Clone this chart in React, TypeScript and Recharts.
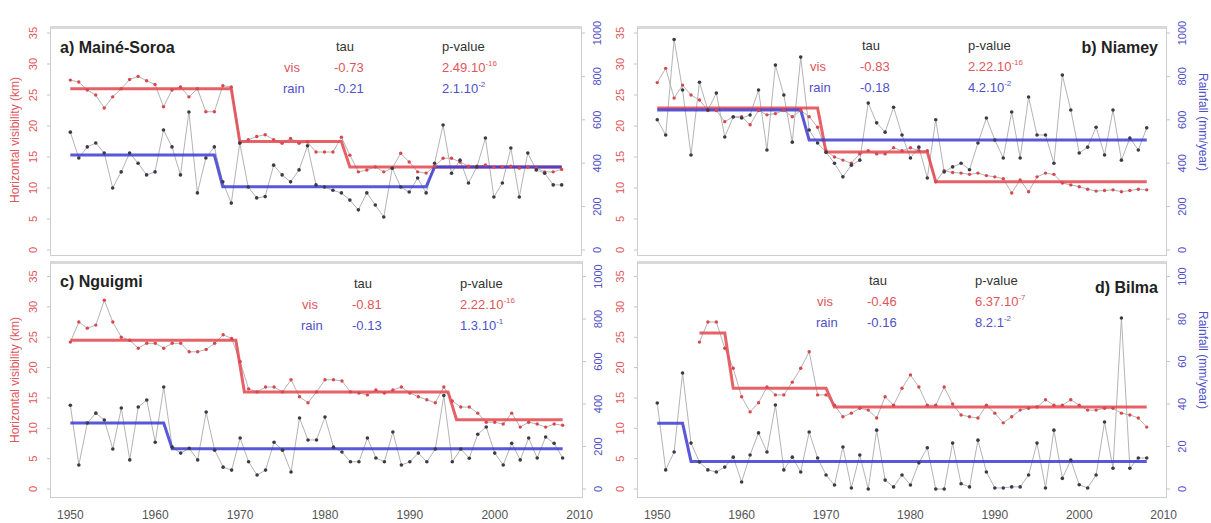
import { ComposedChart, Line, XAxis, YAxis } from 'recharts'

const FONT = '"Liberation Sans", Arial, sans-serif'

const YEARS = [
  1950, 1951, 1952, 1953, 1954, 1955, 1956, 1957, 1958, 1959,
  1960, 1961, 1962, 1963, 1964, 1965, 1966, 1967, 1968, 1969,
  1970, 1971, 1972, 1973, 1974, 1975, 1976, 1977, 1978, 1979,
  1980, 1981, 1982, 1983, 1984, 1985, 1986, 1987, 1988, 1989,
  1990, 1991, 1992, 1993, 1994, 1995, 1996, 1997, 1998, 1999,
  2000, 2001, 2002, 2003, 2004, 2005, 2006, 2007, 2008,
]
const X_TICKS = [1950, 1960, 1970, 1980, 1990, 2000, 2010]
const VIS_TICKS = [0, 5, 10, 15, 20, 25, 30, 35]
const RAIN_TICKS = [0, 200, 400, 600, 800, 1000]
const RAIN_TICKS_BILMA = [0, 20, 40, 60, 80, 100]

// a) Mainé-Soroa
const visMaine = [
  27.4, 27.1, 25.8, 25.0, 22.9, 24.7, 26.0, 27.5, 28.0, 27.3,
  26.7, 23.1, 25.8, 26.3, 24.7, 26.0, 22.3, 22.3, 26.5, 26.3,
  17.2, 17.8, 18.3, 18.6, 17.8, 17.2, 18.0, 17.2, 17.4, 15.8,
  15.8, 15.8, 18.2, 15.3, 12.6, 12.9, 13.4, 12.6, 13.2, 15.6,
  14.2, 12.6, 12.4, 13.5, 14.8, 14.8, 14.2, 13.5, 13.5, 13.7,
  13.4, 13.4, 13.5, 13.2, 13.4, 13.2, 12.6, 12.6, 13.0,
]
const rainMaine = [
  543, 424, 475, 493, 447, 286, 360, 447, 400, 346,
  360, 553, 475, 346, 636, 263, 424, 475, 314, 216,
  493, 290, 240, 246, 391, 346, 314, 369, 480, 300,
  290, 275, 263, 230, 185, 263, 207, 152, 377, 290,
  267, 332, 263, 400, 576, 354, 414, 309, 383, 516,
  244, 309, 470, 244, 447, 369, 354, 300, 300,
]
const visMeanMaine: [number, number, number][] = [[1950, 1969, 26], [1970, 1982, 17.5], [1983, 2008, 13.4]]
const rainMeanMaine: [number, number, number][] = [[1950, 1967, 438], [1968, 1992, 291], [1993, 2008, 383]]

// b) Niamey
const visNiamey = [
  27.0, 29.3, 24.5, 26.6, 25.0, 24.2, 22.5, 22.5, 20.7, 21.5,
  21.5, 20.2, 22.5, 21.8, 22.0, 22.5, 21.5, 22.5, 21.5, 19.8,
  16.0, 15.0, 14.5, 14.0, 15.5, 16.0, 15.5, 15.5, 16.5, 16.0,
  16.5, 16.0, 16.0, 11.0, 12.8, 12.5, 12.4, 12.2, 12.4, 12.0,
  11.8, 11.5, 9.2, 11.3, 9.4, 11.8, 12.4, 12.2, 10.8, 10.5,
  10.2, 9.8, 9.5, 9.6, 9.7, 9.4, 9.6, 9.8, 9.7,
]
const rainNiamey = [
  600, 530, 970, 737, 438, 773, 645, 723, 521, 613,
  608, 622, 737, 461, 852, 714, 497, 889, 553, 493,
  450, 400, 337, 391, 414, 677, 586, 543, 658, 530,
  424, 474, 332, 600, 360, 383, 400, 370, 493, 608,
  507, 424, 636, 424, 705, 530, 530, 400, 806, 645,
  447, 474, 566, 438, 645, 414, 516, 461, 563,
]
const visMeanNiamey: [number, number, number][] = [[1950, 1969, 22.9], [1970, 1982, 15.8], [1983, 2008, 11.0]]
const rainMeanNiamey: [number, number, number][] = [[1950, 1967, 645], [1968, 2008, 507]]

// c) Nguigmi
const visNguigmi = [
  24.2, 27.5, 26.5, 27.0, 31.1, 27.5, 25.0, 24.5, 23.2, 24.0,
  24.0, 23.2, 24.0, 24.0, 22.6, 22.6, 23.0, 24.0, 25.4, 24.8,
  21.0, 16.5, 16.0, 16.8, 16.8, 16.0, 18.0, 15.2, 14.2, 16.0,
  18.0, 18.0, 17.8, 16.0, 15.8, 15.5, 16.3, 15.8, 16.3, 16.8,
  15.8, 15.2, 14.7, 14.2, 16.8, 14.5, 13.5, 13.5, 12.5, 11.0,
  11.0, 10.7, 12.5, 10.2, 11.0, 10.7, 10.2, 10.7, 10.5,
]
const rainNguigmi = [
  394, 113, 311, 357, 325, 188, 381, 137, 386, 419,
  220, 480, 197, 169, 192, 137, 362, 183, 103, 89,
  240, 128, 66, 89, 220, 183, 80, 334, 231, 231,
  339, 197, 174, 128, 128, 240, 146, 128, 268, 113,
  128, 169, 128, 188, 440, 128, 188, 145, 258, 292,
  169, 113, 215, 137, 240, 146, 245, 215, 146,
]
const visMeanNguigmi: [number, number, number][] = [[1950, 1969.5, 24.5], [1970.5, 1994.5, 16.0], [1995.5, 2008, 11.4]]
const rainMeanNguigmi: [number, number, number][] = [[1950, 1961, 311], [1962, 2008, 189]]

// d) Bilma
const visBilma = [
  null, null, null, null, null, 24.2, 27.5, 27.5, 23.2, 19.9,
  15.2, 12.7, 14.2, 16.8, 15.5, 15.5, 17.6, 19.9, 22.6, 15.5,
  15.5, 13.8, 11.9, 12.5, 13.3, 13.0, 11.7, 15.2, 13.8, 16.6,
  18.8, 16.8, 13.8, 13.8, 16.8, 14.0, 12.2, 11.9, 11.7, 13.8,
  12.5, 10.9, 11.9, 13.0, 13.3, 13.5, 14.7, 13.8, 13.8, 14.7,
  13.8, 13.0, 13.0, 13.3, 13.3, 12.5, 12.2, 11.7, 10.2,
]
const rainBilma = [
  40.5, 9, 17.4, 54.6, 21.6, 12.7, 9, 8, 10.3, 15,
  3.3, 16, 26.4, 17.4, 39.5, 9, 15, 8, 26.8, 14.6,
  6.6, 1.9, 19.8, 0.5, 16, 0, 27.7, 4.2, 1, 6.6,
  1.9, 12.3, 19.4, 0, 0, 21.6, 2.5, 1, 23, 8,
  0.5, 0.5, 1, 1, 6.6, 21.6, 0.5, 27.7, 5, 13.6,
  2, 0.5, 6.6, 31.5, 9.8, 80.5, 9.8, 14.6, 14.6,
]
const visMeanBilma: [number, number, number][] = [[1955, 1958, 25.7], [1959, 1970, 16.6], [1971, 2008, 13.5]]
const rainMeanBilma: [number, number, number][] = [[1950, 1953, 31], [1954, 2008, 13]]

const RED = '#e2474d'
const BLUE = '#3b3bd2'
const RED_TXT = '#e0555a'
const BLUE_TXT = '#5050c8'
const GREY_LINE = '#b4b4b4'
const AXW = 40
const PAD = 14
const X_DOMAIN = [1947.6, 2010.4]

function stepPoints(segs: [number, number, number][]) {
  return segs.flatMap(([s, e, v]) => [{ year: s, v }, { year: e, v }])
}

function yTick(x: number, color: string) {
  return (props: any) => {
    const { y, payload } = props
    return (
      <text
        x={x}
        y={y}
        transform={`rotate(-90 ${x} ${y})`}
        textAnchor="middle"
        fill={color}
        fontSize={11}
        fontFamily={FONT}
      >
        {payload.value}
      </text>
    )
  }
}

const visDot = (p: any) =>
  p.value == null || p.cy == null ? <g key={p.index} /> : <circle key={p.index} cx={p.cx} cy={p.cy} r={1.7} fill="#d9464c" />
const rainDot = (p: any) =>
  p.value == null || p.cy == null ? <g key={p.index} /> : <circle key={p.index} cx={p.cx} cy={p.cy} r={1.8} fill="#3a3a4a" />

interface PanelProps {
  left: number
  top: number
  w: number
  h: number
  vis: (number | null)[]
  rain: number[]
  visMean: [number, number, number][]
  rainMean: [number, number, number][]
  visDomain: number[]
  rainDomain: number[]
  rainTicks: number[]
  showX: boolean
}

function Panel({ left, top, w, h, vis, rain, visMean, rainMean, visDomain, rainDomain, rainTicks, showX }: PanelProps) {
  const xH = showX ? 26 : 0
  const bottomPad = showX ? 0 : PAD
  const data = YEARS.map((year, i) => ({ year, vis: vis[i], rain: rain[i] }))
  return (
    <>
      <div
        style={{
          position: 'absolute',
          left,
          top,
          width: w,
          height: h,
          boxSizing: 'border-box',
          border: '1px solid #cdcdcd',
          borderTop: '3px solid #d9d9d9',
        }}
      />
      <div style={{ position: 'absolute', left: left - AXW, top: top - PAD }}>
        <ComposedChart
          width={w + 2 * AXW}
          height={h + xH + PAD + bottomPad}
          data={data}
          margin={{ top: PAD, right: 0, bottom: bottomPad, left: 0 }}
        >
          <XAxis
            type="number"
            dataKey="year"
            domain={X_DOMAIN}
            ticks={X_TICKS}
            allowDataOverflow
            hide={!showX}
            height={xH}
            axisLine={false}
            tickLine={false}
            tickMargin={6}
            interval={0}
            tick={{ fill: '#555555', fontSize: 12, fontFamily: FONT }}
          />
          <YAxis
            yAxisId="vis"
            orientation="left"
            width={AXW}
            domain={visDomain}
            ticks={VIS_TICKS}
            interval={0}
            allowDataOverflow
            axisLine={false}
            tickLine={{ stroke: '#c4c4c4' }}
            tickSize={3}
            tick={yTick(AXW - 13, RED_TXT)}
          />
          <YAxis
            yAxisId="rain"
            orientation="right"
            width={AXW}
            domain={rainDomain}
            ticks={rainTicks}
            interval={0}
            allowDataOverflow
            axisLine={false}
            tickLine={{ stroke: '#c4c4c4' }}
            tickSize={3}
            tick={yTick(AXW + w + 19, BLUE_TXT)}
          />
          <Line yAxisId="vis" dataKey="vis" stroke={GREY_LINE} strokeWidth={1} dot={visDot} isAnimationActive={false} />
          <Line yAxisId="rain" dataKey="rain" stroke={GREY_LINE} strokeWidth={1} dot={rainDot} isAnimationActive={false} />
          <Line
            yAxisId="vis"
            data={stepPoints(visMean)}
            dataKey="v"
            stroke={RED}
            strokeOpacity={0.85}
            strokeWidth={3}
            dot={false}
            isAnimationActive={false}
          />
          <Line
            yAxisId="rain"
            data={stepPoints(rainMean)}
            dataKey="v"
            stroke={BLUE}
            strokeOpacity={0.85}
            strokeWidth={3}
            dot={false}
            isAnimationActive={false}
          />
        </ComposedChart>
      </div>
    </>
  )
}

function Txt({ x, y, children, color = '#333', size = 13, bold = false, right = false }: any) {
  return (
    <div
      style={{
        position: 'absolute',
        left: right ? undefined : x,
        right: right ? 1211 - x : undefined,
        top: y,
        transform: 'translateY(-50%)',
        color,
        fontSize: size,
        fontWeight: bold ? 700 : 400,
        fontFamily: FONT,
        lineHeight: 1,
        whiteSpace: 'nowrap',
      }}
    >
      {children}
    </div>
  )
}

function Pow({ base, exp }: { base: string; exp: string }) {
  return (
    <>
      {base}
      <span style={{ fontSize: 8, position: 'relative', top: -6 }}>{exp}</span>
    </>
  )
}

function VTitle({ x, y, text, color, deg }: { x: number; y: number; text: string; color: string; deg: number }) {
  return (
    <div
      style={{
        position: 'absolute',
        left: x,
        top: y,
        transform: `translate(-50%, -50%) rotate(${deg}deg)`,
        color,
        fontSize: 12,
        fontFamily: FONT,
        whiteSpace: 'nowrap',
        lineHeight: 1,
      }}
    >
      {text}
    </div>
  )
}

function Stats({ x0, y0, tau, pv }: { x0: number; y0: number; tau: string[]; pv: [string, string][] }) {
  return (
    <>
      <Txt x={x0 + 52} y={y0}>tau</Txt>
      <Txt x={x0 + 158} y={y0}>p-value</Txt>
      <Txt x={x0} y={y0 + 21} color={RED_TXT}>vis</Txt>
      <Txt x={x0 - 1} y={y0 + 42} color={BLUE_TXT}>rain</Txt>
      <Txt x={x0 + 50} y={y0 + 21} color={RED_TXT}>{tau[0]}</Txt>
      <Txt x={x0 + 50} y={y0 + 42} color={BLUE_TXT}>{tau[1]}</Txt>
      <Txt x={x0 + 158} y={y0 + 21} color={RED_TXT}><Pow base={pv[0][0]} exp={pv[0][1]} /></Txt>
      <Txt x={x0 + 158} y={y0 + 42} color={BLUE_TXT}><Pow base={pv[1][0]} exp={pv[1][1]} /></Txt>
    </>
  )
}

export default function App() {
  const visTop = [-0.97, 36.13]
  const rainTop = [-27.7, 1032.3]
  const visBot = [-1.48, 37.56]
  const rainBot = [-42.3, 1073.1]
  const rainBilmaDom = [-4.23, 107.3]
  return (
    <div style={{ position: 'absolute', left: 0, top: 0, width: 1211, height: 523, background: '#ffffff', overflow: 'hidden' }}>
      <Panel left={50} top={26} w={532} h={230} vis={visMaine} rain={rainMaine} visMean={visMeanMaine} rainMean={rainMeanMaine}
        visDomain={visTop} rainDomain={rainTop} rainTicks={RAIN_TICKS} showX={false} />
      <Panel left={637} top={26} w={530} h={230} vis={visNiamey} rain={rainNiamey} visMean={visMeanNiamey} rainMean={rainMeanNiamey}
        visDomain={visTop} rainDomain={rainTop} rainTicks={RAIN_TICKS} showX={false} />
      <Panel left={50} top={261} w={533} h={237} vis={visNguigmi} rain={rainNguigmi} visMean={visMeanNguigmi} rainMean={rainMeanNguigmi}
        visDomain={visBot} rainDomain={rainBot} rainTicks={RAIN_TICKS} showX />
      <Panel left={637} top={261} w={530} h={237} vis={visBilma} rain={rainBilma} visMean={visMeanBilma} rainMean={rainMeanBilma}
        visDomain={visBot} rainDomain={rainBilmaDom} rainTicks={RAIN_TICKS_BILMA} showX />

      <VTitle x={15} y={140} text="Horizontal visibility (km)" color={RED_TXT} deg={-90} />
      <VTitle x={15} y={380} text="Horizontal visibility (km)" color={RED_TXT} deg={-90} />
      <VTitle x={1203} y={122} text="Rainfall (mm/year)" color={BLUE_TXT} deg={90} />
      <VTitle x={1203} y={360} text="Rainfall (mm/year)" color={BLUE_TXT} deg={90} />

      <Txt x={60} y={48} size={16} bold color="#222">a) Mainé-Soroa</Txt>
      <Txt x={1158} y={48} size={16} bold color="#222" right>b) Niamey</Txt>
      <Txt x={60} y={282} size={16} bold color="#222">c) Nguigmi</Txt>
      <Txt x={1158} y={288} size={16} bold color="#222" right>d) Bilma</Txt>

      <Stats x0={284} y0={46} tau={['-0.73', '-0.21']} pv={[['2.49.10', '-16'], ['2.1.10', '-2']]} />
      <Stats x0={810} y0={45} tau={['-0.83', '-0.18']} pv={[['2.22.10', '-16'], ['4.2.10', '-2']]} />
      <Stats x0={302} y0={283} tau={['-0.81', '-0.13']} pv={[['2.22.10', '-16'], ['1.3.10', '-1']]} />
      <Stats x0={817} y0={280} tau={['-0.46', '-0.16']} pv={[['6.37.10', '-7'], ['8.2.1', '-2']]} />
    </div>
  )
}
